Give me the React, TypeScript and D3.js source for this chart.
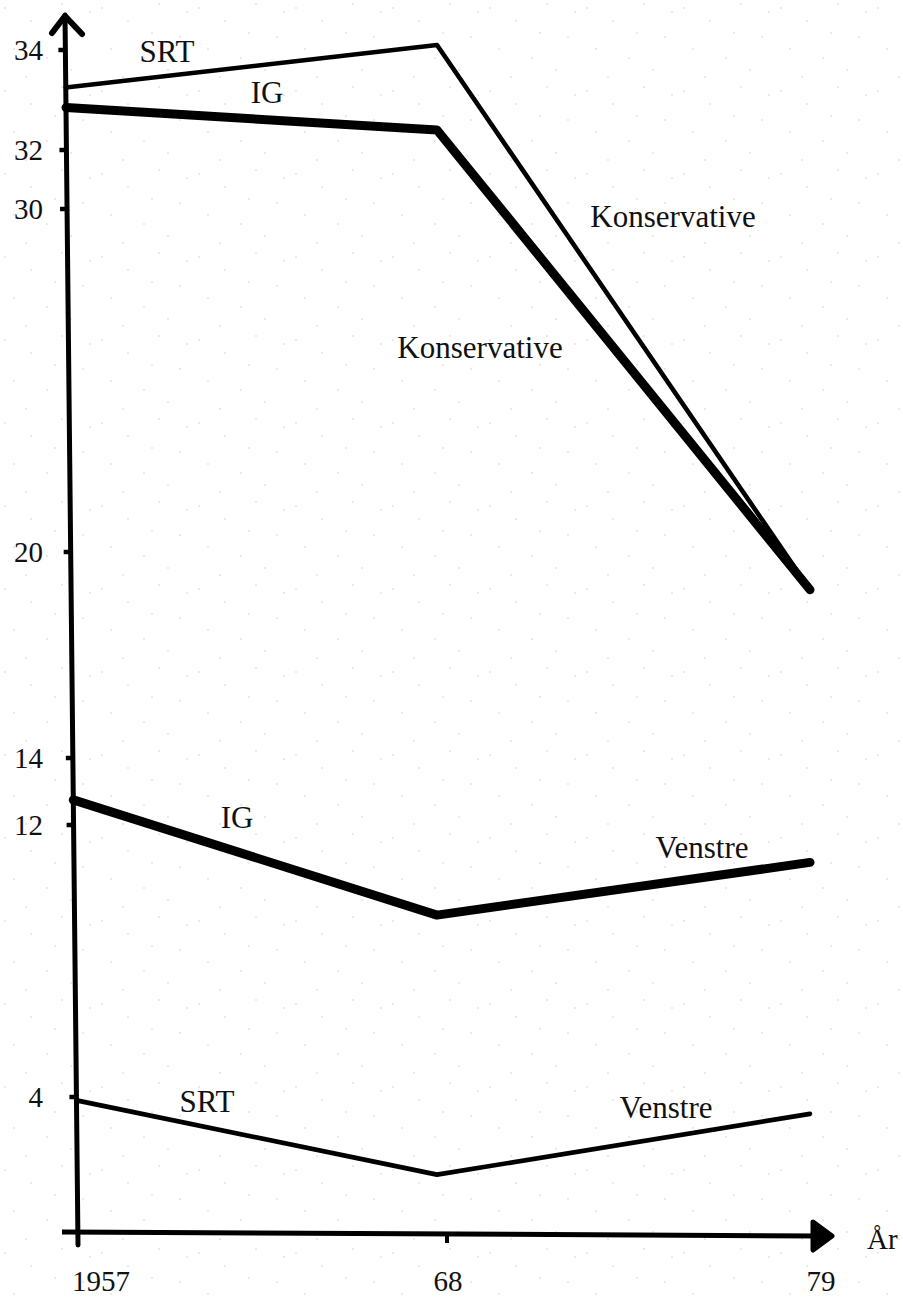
import React from "react";
import * as d3 from "d3";

// ---- data ----
const years = [1957, 1968, 1979];
const srtKonservative = [33.25, 34.1, 18.9];
const igKonservative = [32.85, 32.4, 18.9];
const igVenstre = [12.75, 9.35, 10.9];
const srtVenstre = [3.9, 1.7, 3.5];
const yTicks = [4, 12, 14, 20, 30, 32, 34];
const xTickLabels = ["1957", "68", "79"];

const W = 903;
const H = 1299;

// hand-drawn axis: piecewise-linear scale through the labelled ticks
const y = d3
  .scaleLinear()
  .domain([0, 4, 12, 14, 20, 30, 32, 34])
  .range([1232, 1097, 825, 758, 552, 209, 150, 50]);
const x = d3.scaleLinear().domain([1957, 1968, 1979]).range([72, 437, 810]);

// the y axis leans slightly
const axisTop = { x: 65, y: 15 };
const axisBottom = { x: 78, y: 1245 };
const axisXAt = (py: number) =>
  axisTop.x + ((py - axisTop.y) * (axisBottom.x - axisTop.x)) / (axisBottom.y - axisTop.y);

type Pt = { year: number; v: number };
const toPts = (vals: number[]): Pt[] => years.map((yr, i) => ({ year: yr, v: vals[i] }));

const line = d3
  .line<Pt>()
  .x((d) => (d.year === years[0] ? axisXAt(y(d.v)) : x(d.year)))
  .y((d) => y(d.v));

const series = [
  { vals: srtKonservative, w: 4.6 },
  { vals: igKonservative, w: 9 },
  { vals: igVenstre, w: 9 },
  { vals: srtVenstre, w: 4.6 },
];

const labels = [
  { t: "SRT", x: 167, y: 62 },
  { t: "IG", x: 267, y: 103 },
  { t: "Konservative", x: 673, y: 227 },
  { t: "Konservative", x: 480, y: 358 },
  { t: "IG", x: 237, y: 828 },
  { t: "Venstre", x: 702, y: 858 },
  { t: "SRT", x: 207, y: 1112 },
  { t: "Venstre", x: 666, y: 1118 },
];

const dots = [
  [5, 8], [31, 21], [62, 4], [83, 37], [14, 49], [47, 58], [71, 70], [26, 77], [90, 12], [55, 33],
];

export default function App() {
  const font = "'Liberation Serif', 'DejaVu Serif', serif";
  const xAxisY = y(0);
  return (
    <svg
      width={W}
      height={H}
      viewBox={`0 0 ${W} ${H}`}
      style={{ position: "absolute", left: 0, top: 0, display: "block", background: "#fff" }}
    >
      <defs>
        <pattern id="grain" width={97} height={83} patternUnits="userSpaceOnUse">
          {dots.map(([cx, cy], i) => (
            <circle key={i} cx={cx} cy={cy} r={0.8} fill="#cfcfcf" />
          ))}
        </pattern>
      </defs>
      <rect x={0} y={0} width={W} height={H} fill="#fff" />
      <rect x={0} y={0} width={W} height={H} fill="url(#grain)" />

      {/* y axis */}
      <line
        x1={axisTop.x}
        y1={axisTop.y}
        x2={axisBottom.x}
        y2={axisBottom.y}
        stroke="#000"
        strokeWidth={5}
        strokeLinecap="round"
      />
      <polyline
        points={`52,33 ${axisTop.x},${axisTop.y + 1} 82,34`}
        fill="none"
        stroke="#000"
        strokeWidth={6}
        strokeLinecap="round"
        strokeLinejoin="round"
      />
      {yTicks.map((t) => {
        const py = y(t);
        const ax = axisXAt(py);
        return (
          <g key={t}>
            <line x1={ax - 7} y1={py} x2={ax} y2={py} stroke="#000" strokeWidth={4.5} />
            <text
              x={43}
              y={py + 10}
              textAnchor="end"
              fontFamily={font}
              fontSize={29}
              fill="#111"
            >
              {t}
            </text>
          </g>
        );
      })}

      {/* x axis */}
      <line x1={62} y1={xAxisY} x2={818} y2={xAxisY + 4} stroke="#000" strokeWidth={5} />
      <path
        d={`M813,${xAxisY - 10} L832,${xAxisY + 4} L813,${xAxisY + 18} Z`}
        fill="#000"
        stroke="#000"
        strokeWidth={5}
        strokeLinejoin="round"
      />
      <line x1={447} y1={xAxisY + 3} x2={447} y2={xAxisY + 11} stroke="#000" strokeWidth={4} />
      {years.map((yr, i) => (
        <text
          key={yr}
          x={i === 0 ? x(yr) : x(yr) + 11}
          y={1291}
          textAnchor={i === 0 ? "start" : "middle"}
          fontFamily={font}
          fontSize={29}
          fill="#111"
        >
          {xTickLabels[i]}
        </text>
      ))}
      <text x={867} y={1249} fontFamily={font} fontSize={29} fill="#111">
        År
      </text>

      {/* series */}
      {series.map((s, i) => (
        <path
          key={i}
          d={line(toPts(s.vals)) || ""}
          fill="none"
          stroke="#000"
          strokeWidth={s.w}
          strokeLinejoin="round"
          strokeLinecap="round"
        />
      ))}

      {labels.map((l, i) => (
        <text
          key={i}
          x={l.x}
          y={l.y}
          textAnchor="middle"
          fontFamily={font}
          fontSize={31}
          fill="#111"
        >
          {l.t}
        </text>
      ))}
    </svg>
  );
}
